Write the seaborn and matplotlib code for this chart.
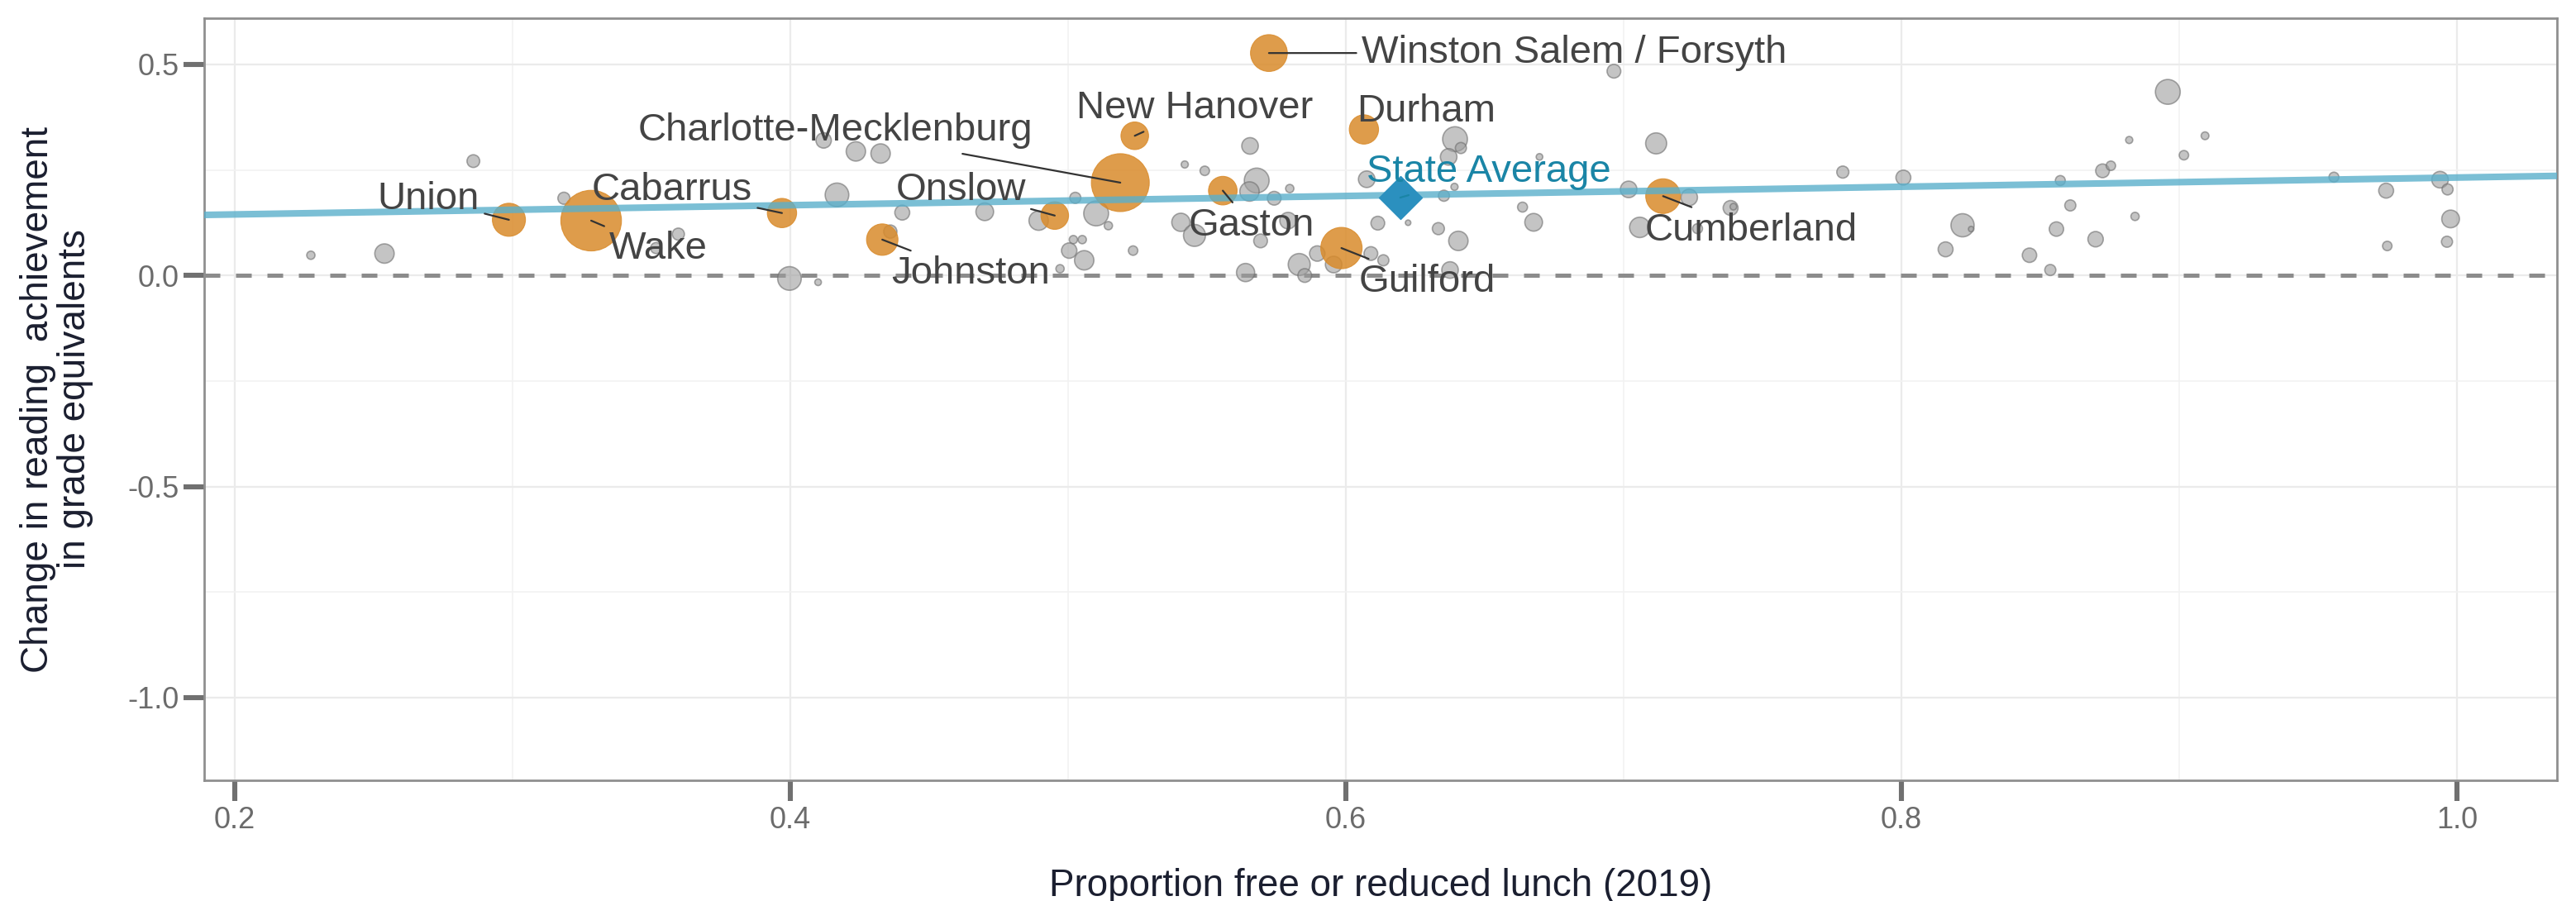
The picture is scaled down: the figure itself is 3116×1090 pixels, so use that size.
import matplotlib
matplotlib.use('Agg')
import matplotlib.pyplot as plt
import seaborn as sns
import pandas as pd
import numpy as np
from matplotlib.ticker import MultipleLocator, FixedLocator

# Highlighted districts
district_names = ['Union', 'Wake', 'Cabarrus', 'Johnston', 'Onslow', 'Charlotte-Mecklenburg',
                  'New Hanover', 'Winston Salem / Forsyth', 'Gaston', 'Guilford', 'Durham', 'Cumberland']
district_frl = [0.2987, 0.3283, 0.3970, 0.4331, 0.4952, 0.5188,
                0.5240, 0.5723, 0.5557, 0.5984, 0.6065, 0.7142]
district_change = [0.132, 0.130, 0.148, 0.085, 0.142, 0.220,
                   0.331, 0.527, 0.201, 0.065, 0.346, 0.188]
district_enroll = [47600, 160000, 37300, 43000, 33200, 146000,
                   33200, 59000, 35600, 74400, 37300, 52500]

# All other districts
other_frl = [0.2859, 0.2274, 0.2539, 0.3185, 0.3597, 0.3517, 0.4120, 0.4236, 0.4325, 0.4168,
             0.4403, 0.4700, 0.4894, 0.4360, 0.3997, 0.4100, 0.5026, 0.5101, 0.5145, 0.5019,
             0.5051, 0.5004, 0.5058, 0.4971, 0.5234, 0.5420, 0.5492, 0.5655, 0.5679, 0.5653,
             0.5742, 0.5798, 0.5406, 0.5455, 0.5693, 0.5792, 0.5639, 0.5832, 0.5852, 0.5897,
             0.5956, 0.6090, 0.6135, 0.6075, 0.6115, 0.6224, 0.6353, 0.6333, 0.6965, 0.6393,
             0.6414, 0.6370, 0.6697, 0.6391, 0.6636, 0.6676, 0.6405, 0.6375, 0.7117, 0.7789,
             0.7018, 0.7236, 0.7385, 0.7395, 0.7058, 0.7266, 0.8007, 0.8159, 0.8220, 0.8251,
             0.8461, 0.8536, 0.8558, 0.8572, 0.8608, 0.8699, 0.8724, 0.8754, 0.8820, 0.8841,
             0.8959, 0.9017, 0.9093, 0.9557, 0.9745, 0.9749, 0.9939, 0.9966, 0.9977, 0.9964]
other_change = [0.271, 0.048, 0.052, 0.183, 0.098, 0.065, 0.320, 0.294, 0.289, 0.191,
                0.149, 0.151, 0.130, 0.104, -0.007, -0.016, 0.184, 0.147, 0.118, 0.085,
                0.085, 0.059, 0.036, 0.016, 0.059, 0.263, 0.248, 0.307, 0.225, 0.199,
                0.183, 0.206, 0.126, 0.095, 0.082, 0.130, 0.007, 0.026, 0.000, 0.052,
                0.026, 0.052, 0.036, 0.228, 0.124, 0.125, 0.189, 0.111, 0.484, 0.323,
                0.302, 0.281, 0.281, 0.210, 0.162, 0.126, 0.082, 0.013, 0.313, 0.245,
                0.204, 0.185, 0.160, 0.163, 0.114, 0.111, 0.232, 0.062, 0.119, 0.110,
                0.048, 0.013, 0.110, 0.225, 0.166, 0.086, 0.248, 0.260, 0.321, 0.140,
                0.435, 0.285, 0.331, 0.233, 0.201, 0.070, 0.227, 0.204, 0.134, 0.080]
other_enroll = [7050, 2975, 16300, 6340, 6340, 5340, 10300, 16300, 16300, 24300,
                9640, 13600, 16300, 7600, 24300, 1900, 5340, 26800, 2975, 2975,
                2975, 10300, 16300, 2975, 3870, 2200, 3870, 11900, 26800, 16300,
                8200, 2975, 14400, 21000, 8200, 11900, 14400, 21000, 8200, 10300,
                11900, 8200, 5340, 11900, 8200, 1300, 5340, 6340, 8200, 26800,
                5340, 11900, 1900, 2200, 4280, 13600, 16300, 11900, 19200, 6340,
                11900, 11900, 9640, 1900, 18000, 4280, 9640, 9640, 23300, 1300,
                9000, 5340, 9000, 4280, 5340, 10300, 8200, 3870, 2200, 2975,
                26800, 3870, 2630, 4280, 9640, 3870, 11900, 5340, 13600, 5340]

state_avg_frl = [0.6196]
state_avg_change = [0.1846]

# fitted trend line (at the panel edges)
trend_frl = [0.189, 1.036]
trend_change = [0.1435, 0.236]

x_ticks = [0.2, 0.4, 0.6, 0.8, 1.0]
y_ticks = [-1.0, -0.5, 0.0, 0.5]

# label placement (text centre x, baseline y)
LABEL_POS = {
    'Union': (0.2698, 0.1566),
    'Wake': (0.3525, 0.039),
    'Cabarrus': (0.3575, 0.1794),
    'Johnston': (0.4649, -0.0196),
    'Onslow': (0.4614, 0.1794),
    'Charlotte-Mecklenburg': (0.4163, 0.3198),
    'New Hanover': (0.5455, 0.372),
    'Winston Salem / Forsyth': (0.6821, 0.5038),
    'Gaston': (0.5661, 0.0946),
    'Guilford': (0.6292, -0.039),
    'Durham': (0.629, 0.3654),
    'Cumberland': (0.746, 0.0834),
}
NO_SEGMENT = ['Durham']

ORANGE = '#D98B2B'
GREY = '#9E9E9E'
TREND_BLUE = '#5AAFCB'
AVG_BLUE = '#2B90BF'
AVG_TEXT = '#1A85A6'


def set_plot_style():
    """Set the plotting style"""
    sns.set_theme(style='white')
    plt.rcParams['font.family'] = ['Liberation Sans', 'DejaVu Sans']
    plt.rcParams['axes.unicode_minus'] = False


def plot_reading_change(output_file):
    fig = plt.figure(figsize=(15.58, 5.45), dpi=200)
    ax = fig.add_axes([247 / 3116, 1 - 944 / 1090, (3093 - 247) / 3116, 922 / 1090])

    others = pd.DataFrame({'frl': other_frl, 'change': other_change, 'enroll': other_enroll})
    named = pd.DataFrame({'name': district_names, 'frl': district_frl,
                          'change': district_change, 'enroll': district_enroll})

    size_kw = dict(size='enroll', sizes=(0, 697), size_norm=(0, 160000), legend=False)

    ax.axhline(0, color='#8C8C8C', lw=1.8, ls=(0, (3.8, 3.8)), zorder=1)

    sns.scatterplot(data=others, x='frl', y='change', color=GREY, alpha=0.6,
                    edgecolor='#6E6E6E', linewidth=0.6, ax=ax, zorder=2, **size_kw)
    sns.scatterplot(data=named, x='frl', y='change', color=ORANGE, alpha=0.85,
                    edgecolor=ORANGE, linewidth=0.4, ax=ax, zorder=3, **size_kw)

    sns.lineplot(x=trend_frl, y=trend_change, color=TREND_BLUE, lw=2.9, alpha=0.8,
                 ax=ax, zorder=4)

    sns.scatterplot(x=state_avg_frl, y=state_avg_change, marker='D', s=175,
                    color=AVG_BLUE, edgecolor=AVG_BLUE, linewidth=0.5, ax=ax, zorder=5)

    for _, row in named.iterrows():
        lx, ly = LABEL_POS[row['name']]
        arrow = None
        if row['name'] not in NO_SEGMENT:
            arrow = dict(arrowstyle='-', color='#333333', lw=0.8, shrinkA=0, shrinkB=0)
        ax.annotate(row['name'], xy=(row['frl'], row['change']), xytext=(lx, ly),
                    ha='center', va='baseline', fontsize=17, color='#444444', zorder=6,
                    arrowprops=arrow)
    ax.annotate('State Average', xy=(state_avg_frl[0], state_avg_change[0]),
                xytext=(0.6513, 0.2218), ha='center', va='baseline', fontsize=17,
                color=AVG_TEXT, zorder=6,
                arrowprops=dict(arrowstyle='-', color=AVG_TEXT, lw=0.8, shrinkA=0, shrinkB=0))

    ax.set_xlim(0.189, 1.036)
    ax.set_ylim(-1.196, 0.6096)

    ax.xaxis.set_major_locator(FixedLocator(x_ticks))
    ax.yaxis.set_major_locator(FixedLocator(y_ticks))
    ax.xaxis.set_minor_locator(MultipleLocator(0.1))
    ax.yaxis.set_minor_locator(MultipleLocator(0.25))
    ax.set_xticklabels([f'{v:.1f}' for v in x_ticks])
    ax.set_yticklabels([f'{v:.1f}' for v in y_ticks])

    ax.grid(which='major', color='#EBEBEB', lw=0.8, zorder=0)
    ax.grid(which='minor', color='#F2F2F2', lw=0.6, zorder=0)
    ax.set_axisbelow(True)

    ax.tick_params(axis='both', which='major', length=9, width=2.2, color='#707070',
                   labelcolor='#6B6B6B', labelsize=13, pad=2, bottom=True, left=True)
    ax.tick_params(axis='both', which='minor', length=0)

    for spine in ax.spines.values():
        spine.set_color('#8F8F8F')
        spine.set_linewidth(1.0)

    ax.set_xlabel('Proportion free or reduced lunch (2019)', fontsize=16.5, color='#1B1F30')
    ax.set_ylabel('Change in reading  achievement\nin grade equivalents', fontsize=16.5,
                  color='#1B1F30', linespacing=1.05)
    ax.xaxis.set_label_coords(0.5, -0.115)
    ax.yaxis.set_label_coords(-0.047, 0.5)

    fig.savefig(output_file, dpi=200, facecolor='white')
    plt.close(fig)


set_plot_style()
plot_reading_change('out.png')
